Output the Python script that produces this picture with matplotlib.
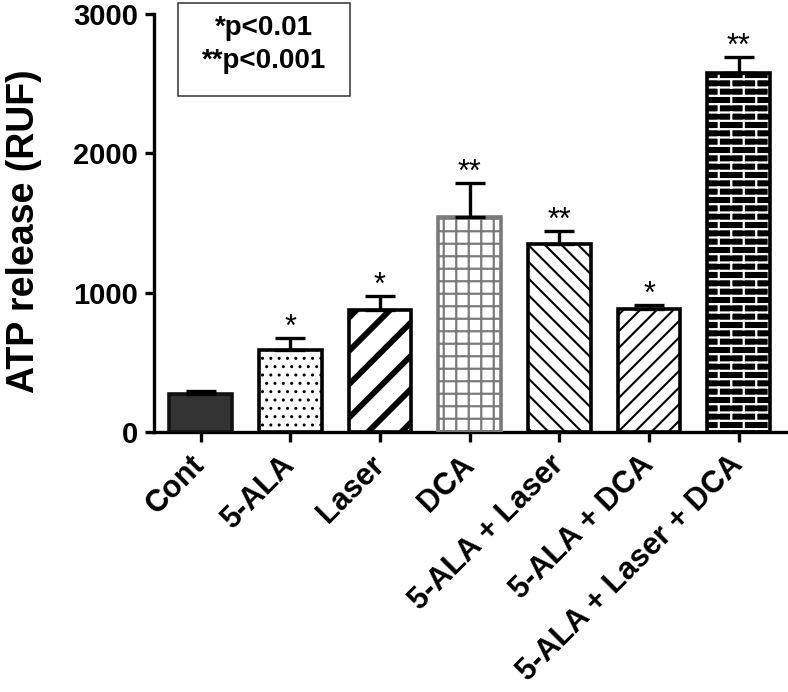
import warnings
import numpy as np
import matplotlib
matplotlib.use("Agg")
import matplotlib.pyplot as plt
from matplotlib import hatch as mhatch
from matplotlib.path import Path
from matplotlib.patches import Rectangle

warnings.filterwarnings("ignore", message=".*hatch must consist.*")

plt.rcParams['font.family'] = ['Liberation Sans', 'DejaVu Sans']

groups = ["Cont", "5-ALA", "Laser", "DCA", "5-ALA + Laser", "5-ALA + DCA",
          "5-ALA + Laser + DCA"]
means = [275, 590, 875, 1545, 1350, 880, 2575]
sems = [20, 85, 100, 245, 95, 30, 115]
stars = ["", "*", "*", "**", "**", "*", "**"]
legend_lines = ["*p<0.01", "**p<0.001"]


# extra hatch patterns: 'g' = fine square grid, 'b' = brick wall
class GridHatch(mhatch.HatchPatternBase):
    def __init__(self, hatch, density):
        self.num_lines = int(hatch.count('g') * density * 4 / 3)
        self.num_vertices = self.num_lines * 4

    def set_vertices_and_codes(self, vertices, codes):
        n = self.num_lines
        steps = (np.arange(n) + 0.5) / n
        h = vertices[:2 * n]
        v = vertices[2 * n:]
        h[0::2, 0], h[0::2, 1] = 0.0, steps
        h[1::2, 0], h[1::2, 1] = 1.0, steps
        v[0::2, 0], v[0::2, 1] = steps, 0.0
        v[1::2, 0], v[1::2, 1] = steps, 1.0
        codes[0::2] = Path.MOVETO
        codes[1::2] = Path.LINETO


class BrickHatch(mhatch.HatchPatternBase):
    def __init__(self, hatch, density):
        self.num_rows = int(hatch.count('b') * density * 2)
        self.per_row = 4
        if self.num_rows:
            self.num_vertices = self.num_rows * 2 + (self.num_rows + 1) * self.per_row * 2
        else:
            self.num_vertices = 0

    def set_vertices_and_codes(self, vertices, codes):
        n = self.num_rows
        k = self.per_row
        rows = (np.arange(n) + 0.5) / n
        vertices[0:2 * n:2, 0], vertices[0:2 * n:2, 1] = 0.0, rows
        vertices[1:2 * n:2, 0], vertices[1:2 * n:2, 1] = 1.0, rows
        i = 2 * n
        for r in range(n + 1):
            shift = 0.25 if r % 2 == 0 else 0.75
            for c in range(k):
                xv = (c + shift) / k
                vertices[i] = (xv, (r - 0.5) / n)
                vertices[i + 1] = (xv, (r + 0.5) / n)
                i += 2
        codes[0::2] = Path.MOVETO
        codes[1::2] = Path.LINETO


mhatch._hatch_types.append(GridHatch)
mhatch._hatch_types.append(BrickHatch)

# face, hatch, hatch colour, outline colour, hatch linewidth
styles = [
    ("#333333", None, "#333333", "#111111", 1.0),
    ("white", "..", "black", "black", 1.0),
    ("white", "/", "black", "black", 4.2),
    ("white", "g", "#7a7a7a", "#7a7a7a", 1.6),
    ("white", "\\\\", "black", "black", 1.5),
    ("white", "//", "black", "black", 1.5),
    ("black", "b", "white", "black", 1.6),
]

fig = plt.figure(figsize=(7.88, 6.92), dpi=100)
ax = fig.add_axes([154 / 788, 1 - 432 / 692, (788 - 154) / 788, (432 - 14) / 692])

x = np.arange(len(groups))
width = 0.7
for i, (face, hatch, hcol, ecol, hlw) in enumerate(styles):
    with plt.rc_context({'hatch.linewidth': hlw}):
        b = ax.bar(x[i], means[i], width=width, color=face, hatch=hatch,
                   edgecolor=hcol, linewidth=0, zorder=2)
    for p in b:
        if hasattr(p, 'set_hatch_linewidth'):
            p.set_hatch_linewidth(hlw)
    ax.bar(x[i], means[i], width=width, fill=False, edgecolor=ecol,
           linewidth=2.6, zorder=3)

ax.errorbar(x, means, yerr=[np.zeros(len(sems)), sems], fmt='none',
            ecolor='black', elinewidth=2.4, capsize=10.5, capthick=2.4, zorder=4)

for xi, m, s, st in zip(x, means, sems, stars):
    if st:
        ax.annotate(st, (xi, m + s), xytext=(0, 1.5), textcoords='offset points',
                    ha='center', va='baseline', fontsize=22)

ax.set_xlim(-0.52, 6.55)
ax.set_ylim(0, 3000)
ax.set_yticks([0, 1000, 2000, 3000])
ax.set_xticks(x)
ax.set_xticklabels(groups, rotation=45, ha='right', va='center',
                   rotation_mode='anchor', fontsize=22, fontweight='bold')
for lab in ax.get_yticklabels():
    lab.set_fontsize(21)
    lab.set_fontweight('bold')

for side in ['top', 'right']:
    ax.spines[side].set_visible(False)
for side in ['left', 'bottom']:
    ax.spines[side].set_linewidth(2.4)
ax.tick_params(axis='y', width=2.4, length=6.5, pad=5)
ax.tick_params(axis='x', width=2.4, length=7.5, pad=13)

ax.set_ylabel("ATP release (RUF)", fontsize=27, fontweight='bold')
ax.yaxis.set_label_coords(-0.177, 0.481)

# significance key box
fig.patches.append(Rectangle((178 / 788, 1 - 96 / 692), 172 / 788, 93 / 692,
                             transform=fig.transFigure, fill=False,
                             edgecolor='#333333', linewidth=1.1))
fig.text(264 / 788, 1 - 28 / 692, legend_lines[0], ha='center', va='center',
         fontsize=20, fontweight='bold')
fig.text(264 / 788, 1 - 61 / 692, legend_lines[1], ha='center', va='center',
         fontsize=20, fontweight='bold')

fig.savefig("out.png", dpi=100)
